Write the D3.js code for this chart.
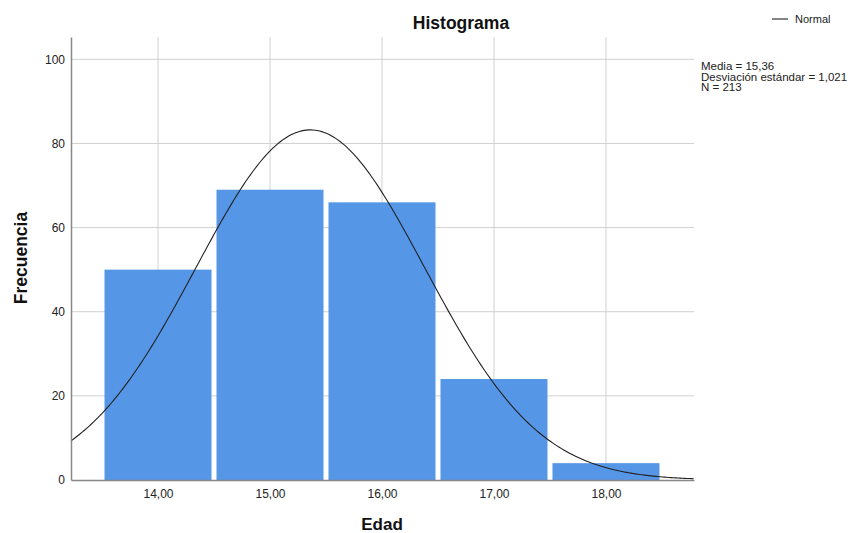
<!DOCTYPE html>
<html>
<head>
<meta charset="utf-8">
<script src="https://cdn.jsdelivr.net/npm/d3@7"></script>
<style>
  body { margin: 0; background: #fff; }
  svg { font-family: "Liberation Sans", Arial, sans-serif; }
</style>
</head>
<body>
<div id="app"></div>
<script>
// histogram data: Edad (age) bins and counts
const ages = [14, 15, 16, 17, 18];
const counts = [50, 69, 66, 24, 4];
const yTicks = [0, 20, 40, 60, 80, 100];
const xTickLabels = ["14,00", "15,00", "16,00", "17,00", "18,00"];
const mean = 15.36;
const sd = 1.021;
const n = 213;
const statLines = ["Media = 15,36", "Desviación estándar = 1,021", "N = 213"];

const width = 856, height = 533;
const margin = { top: 37, right: 162, bottom: 53, left: 71 };

const svg = d3.select("#app").append("svg")
  .attr("width", width)
  .attr("height", height);

const x = d3.scaleLinear().domain([13.223, 18.786]).range([margin.left, width - margin.right]);
const y = d3.scaleLinear().domain([0, 105.3]).range([height - margin.bottom, margin.top]);

// grid
const grid = svg.append("g");
grid.selectAll("line.h")
  .data(yTicks.filter(d => d > 0))
  .enter().append("line")
  .attr("x1", x.range()[0]).attr("x2", x.range()[1])
  .attr("y1", d => y(d)).attr("y2", d => y(d))
  .attr("stroke", "#d0d0d0").attr("stroke-width", 1);
grid.selectAll("line.v")
  .data(ages)
  .enter().append("line")
  .attr("x1", d => x(d)).attr("x2", d => x(d))
  .attr("y1", y.range()[0]).attr("y2", y.range()[1])
  .attr("stroke", "#d0d0d0").attr("stroke-width", 1);

// bars
svg.append("g")
  .selectAll("rect")
  .data(ages.map((a, i) => ({ a, c: counts[i] })))
  .enter().append("rect")
  .attr("x", d => x(d.a - 0.5) + 2.5)
  .attr("width", d => x(d.a + 0.5) - x(d.a - 0.5) - 5)
  .attr("y", d => y(d.c))
  .attr("height", d => y(0) - y(d.c))
  .attr("fill", "#5596e6");

// normal curve scaled to counts (bin width 1)
const pdf = v => n / (sd * Math.sqrt(2 * Math.PI)) * Math.exp(-0.5 * ((v - mean) / sd) ** 2);
const xs = d3.range(x.domain()[0], x.domain()[1] + 0.001, 0.02);
svg.append("path")
  .datum(xs)
  .attr("fill", "none")
  .attr("stroke", "#222")
  .attr("stroke-width", 1.1)
  .attr("d", d3.line().x(d => x(d)).y(d => y(pdf(d))));

// axes
const xAxis = svg.append("g")
  .attr("transform", `translate(0,${y(0)})`)
  .call(d3.axisBottom(x).tickValues(ages).tickSize(0).tickPadding(9)
    .tickFormat((d, i) => xTickLabels[i]));
xAxis.select(".domain").attr("stroke", "#888").attr("stroke-width", 1.5);
xAxis.selectAll("text").attr("font-size", 12).attr("fill", "#222")
  .attr("font-family", "Liberation Sans, Arial, sans-serif");

const yAxis = svg.append("g")
  .attr("transform", `translate(${x.range()[0]},0)`)
  .call(d3.axisLeft(y).tickValues(yTicks).tickSize(0).tickPadding(6));
yAxis.select(".domain").attr("stroke", "#888").attr("stroke-width", 1.5);
yAxis.selectAll("text").attr("font-size", 12).attr("fill", "#222")
  .attr("font-family", "Liberation Sans, Arial, sans-serif");

// titles
svg.append("text")
  .attr("x", 461).attr("y", 29)
  .attr("text-anchor", "middle")
  .attr("font-size", 17.5).attr("font-weight", "bold").attr("fill", "#111")
  .text("Histograma");

svg.append("text")
  .attr("x", 382).attr("y", 530)
  .attr("text-anchor", "middle")
  .attr("font-size", 17).attr("font-weight", "bold").attr("fill", "#111")
  .text("Edad");

svg.append("text")
  .attr("transform", "translate(26.5,258) rotate(-90)")
  .attr("text-anchor", "middle")
  .attr("font-size", 17.5).attr("font-weight", "bold").attr("fill", "#111")
  .text("Frecuencia");

// legend
svg.append("line")
  .attr("x1", 772).attr("x2", 788).attr("y1", 19).attr("y2", 19)
  .attr("stroke", "#222").attr("stroke-width", 1.1);
svg.append("text")
  .attr("x", 795).attr("y", 23)
  .attr("font-size", 11).attr("fill", "#222")
  .text("Normal");

// stats
svg.append("g")
  .selectAll("text")
  .data(statLines)
  .enter().append("text")
  .attr("x", 701)
  .attr("y", (d, i) => 70 + i * 10.5)
  .attr("font-size", 11.5).attr("fill", "#222")
  .text(d => d);
</script>
</body>
</html>
